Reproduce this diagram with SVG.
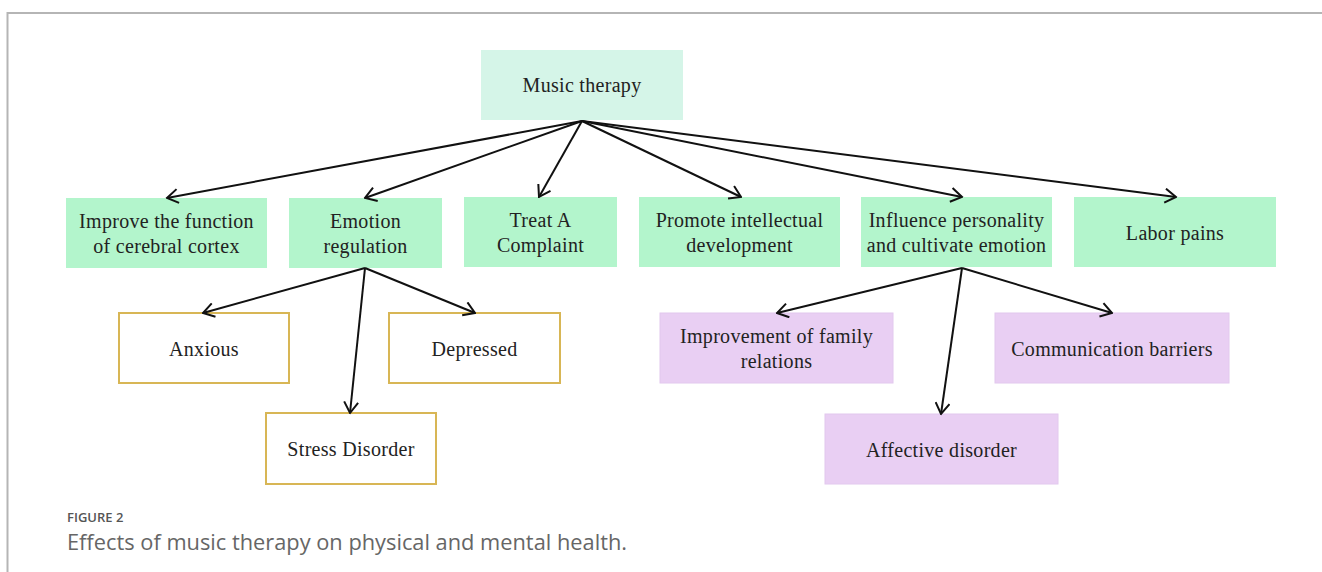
<svg xmlns="http://www.w3.org/2000/svg" width="1322" height="572" viewBox="0 0 1322 572">
<defs>
<marker id="arr" markerUnits="userSpaceOnUse" markerWidth="14" markerHeight="16" viewBox="-1 -8 13 16" refX="11" refY="0" orient="auto">
<path d="M0,-7 L11,0 L0,7" fill="none" stroke="#111" stroke-width="2"/>
</marker>
<style>
text{font-family:"Liberation Serif","Times New Roman",serif;font-size:20px;letter-spacing:0.3px;fill:#222;text-anchor:middle}
.root{fill:#d5f5e8}
.g{fill:#b3f5cc}
.y{fill:#ffffff;stroke:#d8b655;stroke-width:2}
.p{fill:#e9cff3;stroke:#e2c8ee;stroke-width:1}
.c line{stroke:#111;stroke-width:2;marker-end:url(#arr)}
.cap{font-family:"Open Sans","Liberation Sans",sans-serif;text-anchor:start;letter-spacing:0}
</style>
</defs>
<rect width="1322" height="572" fill="#fff"/>
<path d="M7.5,572 V13 H1322" fill="none" stroke="#b5b5b5" stroke-width="2"/>

<g id="n-music"><rect class="root" x="481" y="50" width="202" height="70"/><text x="582" y="92">Music therapy</text></g>
<g id="n-improve"><rect class="g" x="66" y="198" width="201" height="70"/><text x="166.5" y="228">Improve the function</text><text x="166.5" y="253">of cerebral cortex</text></g>
<g id="n-emotion"><rect class="g" x="289" y="198" width="153" height="70"/><text x="365.5" y="228">Emotion</text><text x="365.5" y="253">regulation</text></g>
<g id="n-treat"><rect class="g" x="464" y="197" width="153" height="70"/><text x="540.5" y="227">Treat A</text><text x="540.5" y="252">Complaint</text></g>
<g id="n-promote"><rect class="g" x="639" y="197" width="201" height="70"/><text x="739.5" y="227">Promote intellectual</text><text x="739.5" y="252">development</text></g>
<g id="n-influence"><rect class="g" x="861" y="197" width="191" height="70"/><text x="956.5" y="227">Influence personality</text><text x="956.5" y="252">and cultivate emotion</text></g>
<g id="n-labor"><rect class="g" x="1074" y="197" width="202" height="70"/><text x="1175" y="240">Labor pains</text></g>

<g id="n-anxious"><rect class="y" x="119" y="313" width="170" height="70"/><text x="204" y="356">Anxious</text></g>
<g id="n-depressed"><rect class="y" x="389" y="313" width="171" height="70"/><text x="474.5" y="356">Depressed</text></g>
<g id="n-stress"><rect class="y" x="266" y="413" width="170" height="71"/><text x="351" y="456">Stress Disorder</text></g>

<g id="n-family"><rect class="p" x="660" y="313" width="233" height="70"/><text x="776.5" y="343">Improvement of family</text><text x="776.5" y="368">relations</text></g>
<g id="n-comm"><rect class="p" x="995" y="313" width="234" height="70"/><text x="1112" y="356">Communication barriers</text></g>
<g id="n-affective"><rect class="p" x="825" y="414" width="233" height="70"/><text x="941.5" y="457">Affective disorder</text></g>

<g id="connectors" class="c">
<line x1="582" y1="121" x2="167" y2="198"/>
<line x1="582" y1="121" x2="365" y2="198"/>
<line x1="582" y1="121" x2="539" y2="197"/>
<line x1="582" y1="121" x2="741" y2="197"/>
<line x1="582" y1="121" x2="962" y2="197"/>
<line x1="582" y1="121" x2="1176" y2="197"/>
<line x1="365" y1="268" x2="203" y2="313"/>
<line x1="365" y1="268" x2="350" y2="413"/>
<line x1="365" y1="268" x2="475" y2="313"/>
<line x1="962" y1="268" x2="777" y2="313"/>
<line x1="962" y1="268" x2="941" y2="414"/>
<line x1="962" y1="268" x2="1112" y2="313"/>
</g>

<text class="cap" x="67" y="522" style="font-size:13px;font-weight:600;fill:#555">FIGURE 2</text>
<text class="cap" x="67" y="550" style="font-size:21.8px;fill:#666">Effects of music therapy on physical and mental health.</text>
</svg>
